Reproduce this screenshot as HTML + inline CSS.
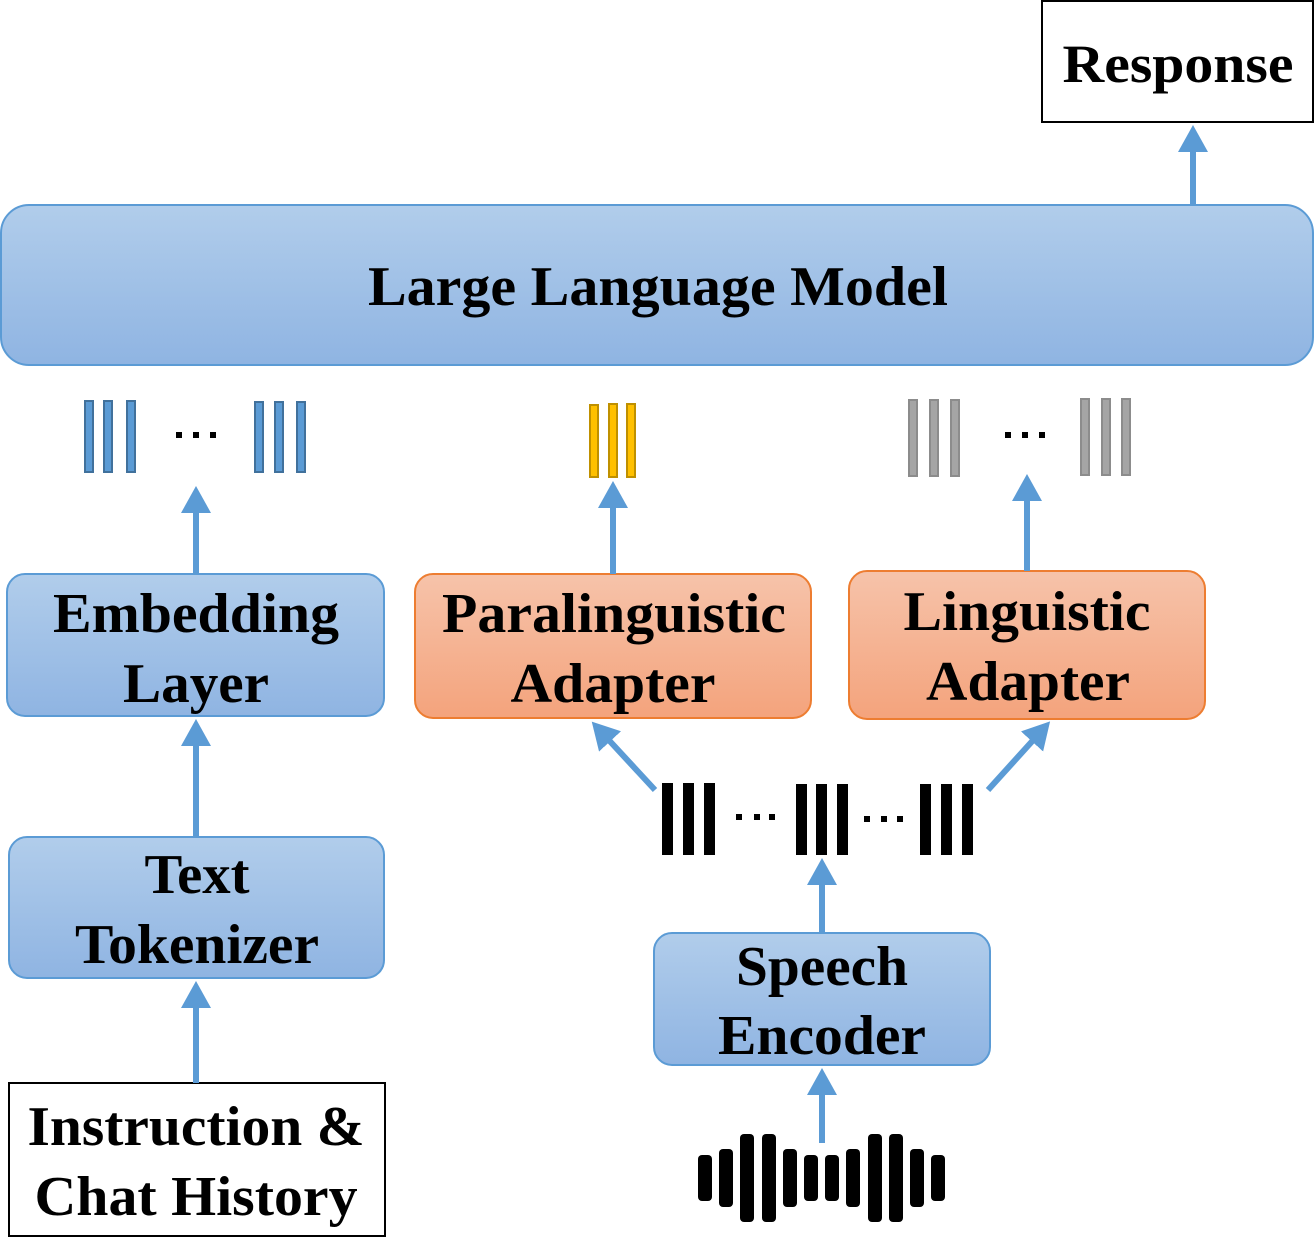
<!DOCTYPE html>
<html><head><meta charset="utf-8"><style>
body{margin:0;background:#fff}
svg text{font-family:"Liberation Serif",serif;font-weight:bold;fill:#000;text-anchor:middle}
</style></head><body>
<svg width="1315" height="1238" viewBox="0 0 1315 1238" xmlns="http://www.w3.org/2000/svg">
<defs>
<linearGradient id="gb" x1="0" y1="0" x2="0" y2="1"><stop offset="0" stop-color="#b1cdeb"/><stop offset="1" stop-color="#8fb4e2"/></linearGradient>
<linearGradient id="go" x1="0" y1="0" x2="0" y2="1"><stop offset="0" stop-color="#f6c3aa"/><stop offset="1" stop-color="#f4a37c"/></linearGradient>
<marker id="ah" markerWidth="5" markerHeight="5" refX="1" refY="2.5" orient="auto" markerUnits="strokeWidth"><path d="M0,0 L4.5,2.5 L0,5 z" fill="#5b9bd5"/></marker>
</defs>
<g lengthAdjust="spacingAndGlyphs">
<rect x="1042" y="1" width="271" height="121" fill="#fff" stroke="#000" stroke-width="2"/>
<text x="1178" y="82" font-size="54" textLength="231" lengthAdjust="spacingAndGlyphs">Response</text>
<rect x="1" y="205" width="1312" height="160" rx="28" fill="url(#gb)" stroke="#5b9bd5" stroke-width="2"/>
<text x="658" y="305" font-size="56" textLength="580" lengthAdjust="spacingAndGlyphs">Large Language Model</text>
<rect x="7" y="574" width="377" height="142" rx="18" fill="url(#gb)" stroke="#5b9bd5" stroke-width="2"/>
<text x="196" y="632" font-size="56" textLength="286" lengthAdjust="spacingAndGlyphs">Embedding</text><text x="196" y="702" font-size="56" textLength="146" lengthAdjust="spacingAndGlyphs">Layer</text>
<rect x="415" y="574" width="396" height="144" rx="18" fill="url(#go)" stroke="#ed7d31" stroke-width="2"/>
<text x="614" y="632" font-size="56" textLength="344" lengthAdjust="spacingAndGlyphs">Paralinguistic</text><text x="613" y="702" font-size="56" textLength="205" lengthAdjust="spacingAndGlyphs">Adapter</text>
<rect x="849" y="571" width="356" height="148" rx="18" fill="url(#go)" stroke="#ed7d31" stroke-width="2"/>
<text x="1027" y="630" font-size="56" textLength="247" lengthAdjust="spacingAndGlyphs">Linguistic</text><text x="1028" y="700" font-size="56" textLength="204" lengthAdjust="spacingAndGlyphs">Adapter</text>
<rect x="9" y="837" width="375" height="141" rx="18" fill="url(#gb)" stroke="#5b9bd5" stroke-width="2"/>
<text x="197" y="893" font-size="56" textLength="105" lengthAdjust="spacingAndGlyphs">Text</text><text x="197" y="963" font-size="56" textLength="244" lengthAdjust="spacingAndGlyphs">Tokenizer</text>
<rect x="654" y="933" width="336" height="132" rx="18" fill="url(#gb)" stroke="#5b9bd5" stroke-width="2"/>
<text x="822" y="985" font-size="56" textLength="172" lengthAdjust="spacingAndGlyphs">Speech</text><text x="822" y="1054" font-size="56" textLength="208" lengthAdjust="spacingAndGlyphs">Encoder</text>
<rect x="9" y="1083" width="376" height="153" fill="#fff" stroke="#000" stroke-width="2"/>
<text x="196" y="1145" font-size="56" textLength="337" lengthAdjust="spacingAndGlyphs">Instruction &amp;</text><text x="196" y="1215" font-size="56" textLength="323" lengthAdjust="spacingAndGlyphs">Chat History</text>
</g>
<g fill="#5b9bd5" stroke="#41719c" stroke-width="2">
<rect x="85" y="401" width="8" height="71"/><rect x="104" y="401" width="8" height="71"/><rect x="127" y="401" width="8" height="71"/>
<rect x="255" y="402" width="8" height="70"/><rect x="275" y="402" width="8" height="70"/><rect x="297" y="402" width="8" height="70"/>
</g>
<g fill="#ffc000" stroke="#bf9000" stroke-width="2">
<rect x="590" y="405" width="8" height="72"/><rect x="609" y="404" width="8" height="73"/><rect x="627" y="404" width="8" height="73"/>
</g>
<g fill="#a5a5a5" stroke="#8c8c8c" stroke-width="2">
<rect x="909" y="400" width="8" height="76"/><rect x="930" y="400" width="8" height="76"/><rect x="951" y="400" width="8" height="76"/>
<rect x="1081" y="399" width="8" height="76"/><rect x="1102" y="399" width="8" height="76"/><rect x="1122" y="399" width="8" height="76"/>
</g>
<g fill="#000">
<rect x="176" y="432" width="6" height="6"/><rect x="193" y="432" width="6" height="6"/><rect x="210" y="432" width="6" height="6"/>
<rect x="1005" y="432" width="6" height="6"/><rect x="1022" y="432" width="6" height="6"/><rect x="1039" y="432" width="6" height="6"/>
<rect x="662" y="783" width="11" height="72"/><rect x="683" y="783" width="11" height="72"/><rect x="704" y="783" width="11" height="72"/>
<rect x="736" y="814" width="6" height="6"/><rect x="754" y="814" width="6" height="6"/><rect x="769" y="814" width="6" height="6"/>
<rect x="796" y="784" width="11" height="71"/><rect x="816" y="784" width="11" height="71"/><rect x="837" y="784" width="11" height="71"/>
<rect x="864" y="816" width="6" height="6"/><rect x="881" y="816" width="6" height="6"/><rect x="897" y="816" width="6" height="6"/>
<rect x="920" y="784" width="11" height="71"/><rect x="941" y="784" width="11" height="71"/><rect x="962" y="784" width="11" height="71"/>
</g>
<g fill="#000">
<rect x="698" y="1155" width="14" height="46" rx="4"/>
<rect x="719" y="1149" width="14" height="58" rx="4"/>
<rect x="740" y="1134" width="14" height="88" rx="4"/>
<rect x="762" y="1134" width="14" height="88" rx="4"/>
<rect x="783" y="1149" width="14" height="58" rx="4"/>
<rect x="804" y="1155" width="14" height="46" rx="4"/>
<rect x="825" y="1155" width="14" height="46" rx="4"/>
<rect x="846" y="1149" width="14" height="58" rx="4"/>
<rect x="868" y="1134" width="14" height="88" rx="4"/>
<rect x="889" y="1134" width="14" height="88" rx="4"/>
<rect x="910" y="1149" width="14" height="58" rx="4"/>
<rect x="931" y="1155" width="14" height="46" rx="4"/>
</g>
<g stroke="#5b9bd5" stroke-width="6" fill="none" marker-end="url(#ah)">
<line x1="1193" y1="206" x2="1193" y2="146"/>
<line x1="196" y1="574" x2="196" y2="507"/>
<line x1="613" y1="574" x2="613" y2="502"/>
<line x1="1027" y1="571" x2="1027" y2="495"/>
<line x1="196" y1="837" x2="196" y2="740"/>
<line x1="196" y1="1083" x2="196" y2="1002"/>
<line x1="822" y1="933" x2="822" y2="879"/>
<line x1="822" y1="1143" x2="822" y2="1089"/>
<line x1="655" y1="790" x2="606" y2="737"/>
<line x1="988" y1="790" x2="1036" y2="737"/>
</g>
</svg>
</body></html>
